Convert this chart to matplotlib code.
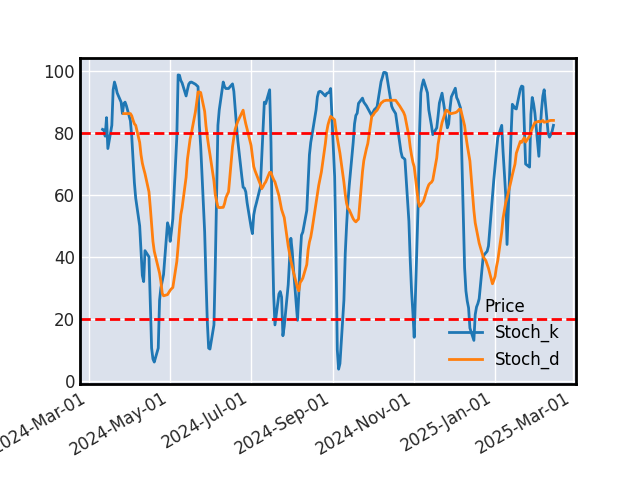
import numpy as np
import pandas as pd
import matplotlib
matplotlib.use('Agg')
import matplotlib.pyplot as plt
import matplotlib.dates as mdates

nan = np.nan

# one row per trading week (Mon..Fri), starting 2024-03-11
stoch_k = [
    81.2, 81.0, 79.0, 85.0, 75.0,
    82.5, 94.0, 96.5, 95.0, 93.0,
    90.0, 86.3, 89.5, 90.0, 88.8,
    84.0, 79.0, 71.5, 64.0, 59.0,
    50.0, 42.0, 34.0, 32.0, 42.0,
    40.0, 25.0, 10.5, 7.0, 6.0,
    10.5, 26.0, 30.0, 32.2, 34.3,
    51.0, 49.5, 45.0, 48.5, 52.3,
    78.7, 98.8, 98.7, 97.0, 96.2,
    92.0, 94.0, 95.8, 96.4, 96.5,
    95.8, 95.4, 95.0, 82.5, 75.8,
    48.0, 32.8, 19.0, 10.5, 10.2,
    18.0, 37.0, 60.0, 82.5, 87.5,
    96.5, 95.0, 94.4, 94.4, 94.4,
    95.9, 93.5, 88.0, 82.5, 77.5,
    66.0, 62.5, 62.2, 61.0, 57.5,
    49.6, 47.5, 53.5, 55.8, 57.4,
    62.6, 72.0, 81.0, 90.0, 89.5,
    94.0, 77.0, 48.0, 28.0, 18.0,
    28.0, 28.8, 27.0, 14.5, 17.5,
    31.0, 39.0, 46.0, 42.0, 36.0,
    19.5, 28.0, 40.0, 47.0, 48.0,
    55.0, 64.0, 73.0, 77.0, 79.5,
    87.5, 91.7, 93.3, 93.5, 93.3,
    92.0, 92.8, 93.0, 93.3, 94.4,
    66.0, 42.0, 10.0, 3.7, 5.5,
    26.0, 41.0, 50.0, 57.6, 63.0,
    77.0, 83.0, 85.7, 86.4, 89.6,
    91.3, 90.0, 89.4, 88.8, 88.0,
    85.6, 86.8, 87.6, 88.0, 88.5,
    96.6, 98.0, 99.6, 99.6, 99.4,
    91.4, 88.7, 87.7, 87.0, 86.3,
    77.0, 74.0, 72.2, 71.9, 71.5,
    51.5, 39.0, 29.0, 22.0, 14.0,
    57.5, 80.0, 93.0, 95.5, 97.2,
    93.0, 87.5, 85.0, 82.5, 79.5,
    81.7, 85.5, 89.7, 91.3, 92.9,
    84.5, 81.7, 83.0, 88.0, 91.7,
    94.5, 91.5, 90.6, 89.3, 88.0,
    36.5, 29.0, 25.7, 23.5, 17.0,
    13.0, 21.3, 23.8, 24.9, 26.5,
    40.0, 40.8, 41.3, 41.8, 43.5,
    59.8, 64.8, 69.4, 74.2, 78.5,
    82.5, 74.0, 67.0, 60.0, 44.0,
    79.0, 89.3, 88.7, 88.0, 87.8,
    94.2, 95.2, 95.0, 82.0, 70.0,
    69.0, 86.0, 91.5, 89.5, 86.5,
    72.5, 81.0, 87.5, 92.0, 94.0,
    80.0, 78.7, 79.5, 80.6, 82.5,
]

stoch_d = [
    nan, nan, nan, nan, nan,
    nan, nan, nan, nan, nan,
    nan, nan, 86.3, 86.3, 86.3,
    86.3, 85.6, 84.2, 83.0, 82.5,
    77.0, 73.0, 70.3, 68.5, 66.9,
    61.0, 56.0, 50.3, 45.0, 41.8,
    36.4, 34.7, 32.0, 28.2, 27.4,
    27.8, 28.5, 29.2, 29.7, 30.1,
    38.5, 43.5, 49.0, 53.6, 55.9,
    65.7, 71.5, 74.8, 78.0, 80.0,
    86.8, 89.9, 93.3, 93.3, 93.1,
    87.0, 82.3, 78.8, 75.8, 73.1,
    64.5, 60.1, 58.0, 56.1, 55.9,
    56.0, 57.2, 59.1, 60.1, 61.0,
    75.6, 78.6, 81.2, 82.6, 83.8,
    86.5, 87.4, 85.0, 83.0, 81.3,
    76.0, 72.5, 69.2, 67.8, 66.7,
    63.4, 62.0, 62.7, 63.6, 64.2,
    67.3, 67.3, 66.0, 65.0, 64.2,
    59.8, 57.5, 55.3, 54.0, 52.7,
    43.5, 41.0, 38.7, 37.0, 35.0,
    30.0, 29.0, 31.7, 32.3, 33.1,
    37.5, 42.2, 44.8, 46.4, 48.9,
    57.5, 60.4, 63.1, 65.3, 67.4,
    76.6, 80.4, 82.7, 84.2, 85.4,
    84.3, 80.9, 78.4, 75.7, 73.5,
    64.1, 60.3, 57.3, 55.7, 55.2,
    52.3, 51.7, 51.3, 51.8, 52.2,
    67.5, 71.1, 73.0, 75.0, 76.6,
    85.4, 85.8, 86.5, 87.0, 87.4,
    89.7, 90.0, 90.4, 90.5, 90.6,
    90.6, 90.6, 90.6, 90.6, 90.6,
    88.8, 88.1, 87.4, 86.7, 85.6,
    79.0, 75.5, 72.8, 70.6, 69.1,
    58.0, 56.3, 56.8, 57.4, 58.0,
    62.2, 63.3, 63.8, 64.1, 64.8,
    72.0, 76.4, 79.0, 81.3, 83.4,
    87.4, 87.3, 86.8, 86.3, 86.3,
    86.6, 86.8, 87.2, 87.7, 87.7,
    82.4, 79.0, 76.1, 73.5, 71.0,
    55.0, 51.0, 48.8, 46.6, 44.4,
    40.0, 39.4, 38.8, 37.6, 36.3,
    31.3, 32.4, 33.7, 36.7, 38.8,
    48.0, 52.5, 55.0, 57.5, 59.0,
    64.5, 66.5, 68.3, 70.0, 73.5,
    77.3, 77.0, 77.8, 78.5, 77.1,
    79.0, 80.4, 81.5, 82.5, 83.4,
    83.8, 83.6, 83.8, 84.1, 83.5,
    83.8, 84.0, 84.1, 84.1, 84.1,
]

dates = pd.bdate_range('2024-03-11', periods=len(stoch_k))
df = pd.DataFrame({'Stoch_k': stoch_k, 'Stoch_d': stoch_d}, index=dates)
df.columns.name = 'Price'

fig, ax = plt.subplots(figsize=(6.4, 4.8), dpi=100)
ax.set_facecolor('#dbe1ec')
ax.grid(True, color='white', linewidth=1)
ax.set_axisbelow(True)

ax.plot(df.index, df['Stoch_k'], color='#1f77b4', linewidth=2, label='Stoch_k')
ax.plot(df.index, df['Stoch_d'], color='#ff7f0e', linewidth=2, label='Stoch_d')
ax.axhline(80, color='red', linestyle='--', linewidth=2)
ax.axhline(20, color='red', linestyle='--', linewidth=2)

ax.xaxis.set_major_locator(mdates.MonthLocator(bymonth=[1, 3, 5, 7, 9, 11]))
ax.xaxis.set_major_formatter(mdates.DateFormatter('%Y-%b-%d'))
ax.set_yticks([0, 20, 40, 60, 80, 100])
ax.tick_params(length=0, labelsize=12, colors='#262626')

for s in ax.spines.values():
    s.set_color('black')
    s.set_linewidth(2)

leg = ax.legend(title='Price', loc='lower right', frameon=False, fontsize=12, title_fontsize=12)
fig.autofmt_xdate()

fig.savefig('out.png')
